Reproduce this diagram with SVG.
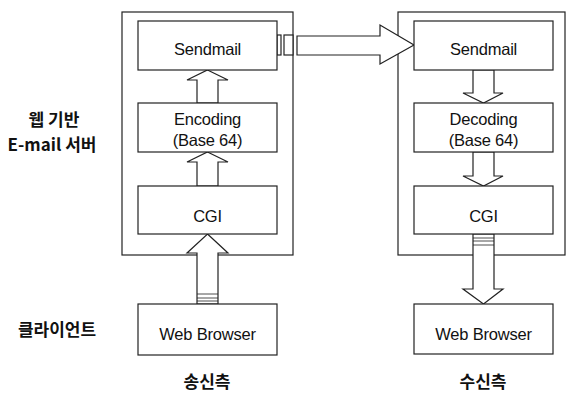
<svg xmlns="http://www.w3.org/2000/svg" width="568" height="394" viewBox="0 0 568 394">
<style>
.frame{fill:none;stroke:#222;stroke-width:1.2}
.box{fill:#fff;stroke:#222;stroke-width:1.2}
.arr{fill:#fff;stroke:#222;stroke-width:1.2;stroke-linejoin:miter}
.t{font-family:"Liberation Sans",Arial,sans-serif;font-size:16.5px;fill:#111;text-anchor:middle;letter-spacing:-0.2px}
.k{font-family:"Noto Sans CJK KR","Noto Sans",sans-serif;font-size:17px;font-weight:bold;fill:#111;text-anchor:middle}
.st{stroke:#222;stroke-width:0.8}
</style>
<rect width="568" height="394" fill="#fff"/>
<g id="labels">
<text class="k" x="54" y="126">웹 기반</text>
<text class="k" x="52" y="151">E-mail 서버</text>
<text class="k" x="57" y="336">클라이언트</text>
<text class="k" x="207" y="388">송신측</text>
<text class="k" x="483" y="388">수신측</text>
</g>
<g id="sender-server"><rect class="frame" x="122" y="12" width="171" height="243"/></g>
<g id="receiver-server"><rect class="frame" x="398" y="12" width="167" height="243"/></g>
<g id="connectors">
<path class="arr" d="M207.5,70 L228,80 L218,80 L218,103 L197,103 L197,80 L187,80 Z"/>
<path class="arr" d="M207.5,152 L228,162 L218,162 L218,186 L197,186 L197,162 L187,162 Z"/>
<path class="arr" d="M207.5,234 L228,253 L218,253 L218,304 L197,304 L197,253 L187,253 Z"/>
<line class="st" x1="197" y1="294" x2="218" y2="294"/>
<line class="st" x1="197" y1="298" x2="218" y2="298"/>
<line class="st" x1="197" y1="301" x2="218" y2="301"/>
<path class="arr" d="M473,70 L494,70 L494,93 L503,93 L483.5,103 L463,93 L473,93 Z"/>
<path class="arr" d="M473,152 L494,152 L494,176 L503,176 L483.5,186 L463,176 L473,176 Z"/>
<path class="arr" d="M473,234 L494,234 L494,289 L503,289 L483.5,304 L463,289 L473,289 Z"/>
<line class="st" x1="473" y1="238" x2="494" y2="238"/>
<line class="st" x1="473" y1="241" x2="494" y2="241"/>
<line class="st" x1="473" y1="245" x2="494" y2="245"/>
<rect class="arr" x="277" y="35" width="4" height="20"/>
<rect class="arr" x="284" y="35" width="9" height="20"/>
<path class="arr" d="M297,36 L380,36 L380,25 L414,45 L380,64 L380,55 L297,55 Z"/>
</g>
<g id="s-sendmail"><rect class="box" x="138" y="21" width="139" height="49"/><text class="t" x="207.5" y="55">Sendmail</text></g>
<g id="s-encoding"><rect class="box" x="138" y="103" width="139" height="49"/><text class="t" x="207.5" y="125">Encoding</text><text class="t" x="207.5" y="146">(Base 64)</text></g>
<g id="s-cgi"><rect class="box" x="138" y="186" width="139" height="48"/><text class="t" x="207.5" y="222">CGI</text></g>
<g id="s-browser"><rect class="box" x="138" y="304" width="139" height="51"/><text class="t" x="207.5" y="340">Web Browser</text></g>
<g id="r-sendmail"><rect class="box" x="414" y="21" width="139" height="49"/><text class="t" x="483.5" y="55">Sendmail</text></g>
<g id="r-decoding"><rect class="box" x="414" y="103" width="139" height="49"/><text class="t" x="483.5" y="125">Decoding</text><text class="t" x="483.5" y="146">(Base 64)</text></g>
<g id="r-cgi"><rect class="box" x="414" y="186" width="139" height="48"/><text class="t" x="483.5" y="222">CGI</text></g>
<g id="r-browser"><rect class="box" x="414" y="304" width="139" height="50"/><text class="t" x="483.5" y="340">Web Browser</text></g>
</svg>
